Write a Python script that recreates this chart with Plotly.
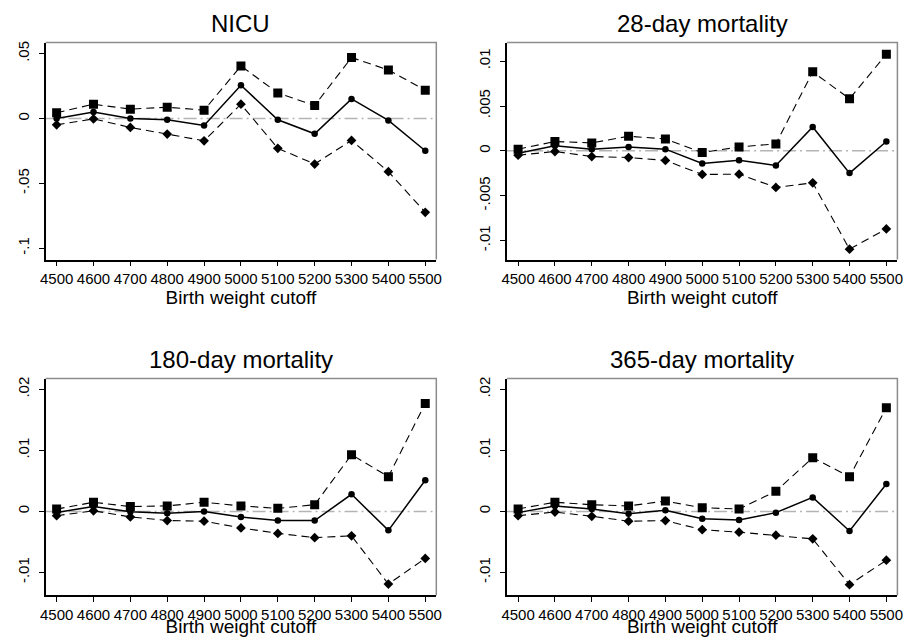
import plotly.graph_objects as go

cutoffs = [4500, 4600, 4700, 4800, 4900, 5000, 5100, 5200, 5300, 5400, 5500]

titles = ["NICU", "28-day mortality", "180-day mortality", "365-day mortality"]

nicu_upper = [0.0044, 0.011, 0.0072, 0.0087, 0.0064, 0.0405, 0.0197, 0.010, 0.047, 0.0374, 0.0218]
nicu_est = [0.0, 0.005, 0.0, -0.001, -0.0054, 0.0256, -0.001, -0.0118, 0.0151, -0.0015, -0.0249]
nicu_lower = [-0.0049, -0.0003, -0.0069, -0.012, -0.0172, 0.011, -0.023, -0.0351, -0.0169, -0.041, -0.0723]

m28_upper = [0.00019, 0.00104, 0.00089, 0.00163, 0.00133, -0.00019, 0.00044, 0.00078, 0.00881, 0.00581, 0.01078]
m28_est = [-0.00026, 0.00056, 0.00019, 0.00044, 0.00019, -0.0014, -0.00104, -0.00163, 0.00267, -0.00248, 0.00104]
m28_lower = [-0.00048, -0.00007, -0.00063, -0.00074, -0.00107, -0.00263, -0.0026, -0.00407, -0.00356, -0.01096, -0.0087]

m180_upper = [0.00038, 0.0015, 0.0008, 0.0009, 0.0015, 0.0009, 0.0005, 0.0011, 0.0093, 0.0057, 0.0177]
m180_est = [-0.00016, 0.0008, -0.00005, -0.0003, 0.0, -0.0009, -0.0015, -0.0015, 0.0028, -0.0031, 0.0051]
m180_lower = [-0.0007, 0.0001, -0.0009, -0.0015, -0.0016, -0.0027, -0.0036, -0.0043, -0.004, -0.0119, -0.0077]

m365_upper = [0.0004, 0.0015, 0.0011, 0.0009, 0.0017, 0.0006, 0.0004, 0.0033, 0.0088, 0.0057, 0.017]
m365_est = [-0.0002, 0.0009, 0.0004, -0.0004, 0.0002, -0.0012, -0.0014, -0.0002, 0.0023, -0.0032, 0.0045]
m365_lower = [-0.0007, -0.0001, -0.0008, -0.0016, -0.0015, -0.003, -0.0034, -0.0039, -0.0045, -0.012, -0.008]

ytick_vals = [
    [0.05, 0, -0.05, -0.1],
    [0.01, 0.005, 0, -0.005, -0.01],
    [0.02, 0.01, 0, -0.01],
    [0.02, 0.01, 0, -0.01],
]
ytick_text = [
    [".05", "0", "-.05", "-.1"],
    [".01", ".005", "0", "-.005", "-.01"],
    [".02", ".01", "0", "-.01"],
    [".02", ".01", "0", "-.01"],
]
y_ranges = [[-0.1087, 0.0585], [-0.01211, 0.01207], [-0.01377, 0.02178], [-0.01377, 0.02178]]

series = [
    (nicu_upper, nicu_est, nicu_lower),
    (m28_upper, m28_est, m28_lower),
    (m180_upper, m180_est, m180_lower),
    (m365_upper, m365_est, m365_lower),
]

# page body has an 8px margin; size the figure so it fills the 911x637 window
OFF = 8
W, H = 911 - OFF, 637 - OFF


def xd(a, b):
    return [(a - OFF) / W, (b - OFF) / W]


def yd(top, bottom):
    return [(H - (bottom - OFF)) / H, (H - (top - OFF)) / H]


x_doms = [xd(40, 436), xd(507.7, 903.3)]
y_doms = [yd(40.7, 258.3), yd(377.7, 595.3)]

fig = go.Figure()
font_family = "Liberation Sans, Arial, sans-serif"

for i, (up, est, lo) in enumerate(series):
    n = "" if i == 0 else str(i + 1)
    xa, ya = "x" + n, "y" + n
    fig.add_trace(go.Scatter(x=cutoffs, y=up, mode="lines+markers", xaxis=xa, yaxis=ya,
                             line=dict(color="black", width=1.1, dash="8px,5px"),
                             marker=dict(symbol="square", size=9, color="black"), showlegend=False))
    fig.add_trace(go.Scatter(x=cutoffs, y=est, mode="lines+markers", xaxis=xa, yaxis=ya,
                             line=dict(color="black", width=1.5),
                             marker=dict(symbol="circle", size=6.5, color="black"), showlegend=False))
    fig.add_trace(go.Scatter(x=cutoffs, y=lo, mode="lines+markers", xaxis=xa, yaxis=ya,
                             line=dict(color="black", width=1.1, dash="8px,5px"),
                             marker=dict(symbol="diamond", size=7.5, color="black"), showlegend=False))

    col, row = i % 2, i // 2
    axis_common = dict(showgrid=False, zeroline=False, showline=True, linecolor="black", linewidth=1.5,
                       ticks="outside", ticklen=5, tickcolor="black", tickwidth=1,
                       tickfont=dict(family=font_family, size=15, color="black"))
    fig.layout["xaxis" + n] = dict(domain=x_doms[col], anchor=ya, range=[4470, 5530],
                                   tickvals=cutoffs, ticktext=[str(c) for c in cutoffs], tickangle=0,
                                   title=dict(text="Birth weight cutoff", standoff=0,
                                              font=dict(family=font_family, size=19, color="black")),
                                   **axis_common)
    fig.layout["yaxis" + n] = dict(domain=y_doms[row], anchor=xa, range=y_ranges[i],
                                   tickvals=ytick_vals[i], ticktext=ytick_text[i], tickangle=-90,
                                   ticklabelstandoff=4,
                                   **axis_common)
    # zero reference line
    fig.add_shape(type="line", xref=xa + " domain", yref=ya, x0=0, x1=1, y0=0, y1=0,
                  line=dict(color="#b4b4b4", width=1.5, dash="13px,4px,2px,4px"), layer="below")
    # gray frame on top and right
    fig.add_shape(type="path", xref=xa + " domain", yref=ya + " domain",
                  path="M 0 1 L 1 1 L 1 0", line=dict(color="#8c8c8c", width=1.5))
    # panel title
    fig.add_annotation(text=titles[i], xref=xa + " domain", yref=ya + " domain", x=0.5, y=1.0,
                       yshift=19, xanchor="center", yanchor="middle", showarrow=False,
                       font=dict(family=font_family, size=24, color="black"))

fig.update_layout(width=W, height=H, margin=dict(l=0, r=0, t=0, b=0),
                  paper_bgcolor="white", plot_bgcolor="white")

fig.write_html("out.html")
